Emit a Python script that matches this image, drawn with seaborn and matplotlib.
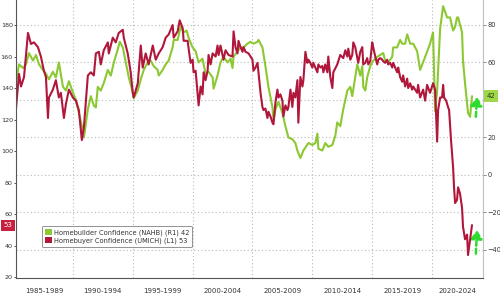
import matplotlib
matplotlib.use("Agg")
import matplotlib.pyplot as plt
import matplotlib.transforms as mtransforms
from matplotlib.patches import Patch
import seaborn as sns

# ---------------- data ----------------
red_years = [1985.25, 1985.5, 1985.67, 1985.92, 1986.25, 1986.5, 1986.75, 1987.08, 1987.33, 1987.58,
             1987.75, 1987.92, 1988.0, 1988.33, 1988.58, 1988.83, 1989.0, 1989.25, 1989.42, 1989.67,
             1990.0, 1990.25, 1990.5, 1990.75, 1990.92, 1991.25, 1991.5, 1991.75, 1991.92, 1992.17,
             1992.33, 1992.58, 1992.92, 1993.0, 1993.33, 1993.58, 1993.83, 1994.17, 1994.25, 1994.58,
             1994.83, 1995.0, 1995.08, 1995.42, 1995.67, 1995.83, 1996.08, 1996.33, 1996.67, 1996.92,
             1997.17, 1997.5, 1997.75, 1998.0, 1998.33, 1998.42, 1998.75, 1998.92, 1999.17, 1999.25,
             1999.58, 1999.67, 1999.83, 2000.0, 2000.08, 2000.25, 2000.42, 2000.5, 2000.67, 2000.83,
             2000.92, 2001.08, 2001.25, 2001.33, 2001.5, 2001.67, 2001.92, 2002.08, 2002.17, 2002.33,
             2002.58, 2002.75, 2003.0, 2003.33, 2003.42, 2003.58, 2003.75, 2003.83, 2004.0, 2004.17,
             2004.25, 2004.42, 2004.67, 2005.0, 2005.08, 2005.25, 2005.42, 2005.5, 2005.67, 2005.83,
             2005.92, 2006.08, 2006.25, 2006.33, 2006.5, 2006.67, 2006.75, 2006.92, 2007.08, 2007.17,
             2007.33, 2007.5, 2007.58, 2007.75, 2007.92, 2008.0, 2008.17, 2008.33, 2008.42, 2008.58,
             2008.75, 2008.83, 2009.0, 2009.17, 2009.25, 2009.42, 2009.58, 2009.67, 2009.83, 2010.0,
             2010.08, 2010.25, 2010.42, 2010.5, 2010.67, 2010.83, 2010.92, 2011.08, 2011.25, 2011.33,
             2011.5, 2011.67, 2011.75, 2012.08, 2012.33, 2012.58, 2012.75, 2012.92, 2013.0, 2013.17,
             2013.33, 2013.42, 2013.58, 2013.75, 2013.83, 2014.0, 2014.17, 2014.25, 2014.42, 2014.58,
             2014.67, 2014.83, 2015.0, 2015.08, 2015.25, 2015.42, 2015.5, 2015.67, 2015.83, 2015.92,
             2016.08, 2016.25, 2016.33, 2016.5, 2016.67, 2016.75, 2016.92, 2017.08, 2017.17, 2017.33,
             2017.5, 2017.58, 2017.75, 2017.92, 2018.0, 2018.17, 2018.33, 2018.42, 2018.75, 2018.83,
             2019.0, 2019.25, 2019.42, 2019.58, 2019.83, 2020.08, 2020.25, 2020.42, 2020.5, 2020.67,
             2020.83, 2020.92, 2021.0, 2021.17, 2021.33, 2021.42, 2021.58, 2021.75, 2021.83, 2021.92,
             2022.08, 2022.17, 2022.33, 2022.5, 2022.58, 2022.75, 2022.92, 2023.0, 2023.17, 2023.33]
red_values = [127, 149, 141, 147, 175, 168, 169, 166, 160, 151,
              147, 121, 134, 139, 145, 134, 137, 121, 130, 139,
              134, 132, 126, 107, 115, 148, 150, 148, 162, 163,
              155, 164, 169, 162, 172, 169, 175, 177, 172, 162,
              150, 137, 134, 143, 167, 153, 162, 155, 167, 158,
              162, 166, 172, 174, 180, 172, 176, 183, 178, 170,
              170, 165, 156, 158, 150, 151, 136, 129, 141, 136,
              150, 145, 151, 161, 155, 162, 160, 167, 161, 167,
              158, 164, 161, 160, 176, 166, 162, 170, 166, 163,
              166, 163, 162, 158, 151, 153, 156, 150, 137, 128,
              126, 127, 121, 125, 122, 118, 117, 131, 139, 134,
              136, 132, 122, 129, 126, 128, 139, 128, 137, 134,
              145, 118, 147, 141, 145, 163, 156, 158, 156, 153,
              156, 153, 150, 155, 153, 154, 150, 155, 150, 160,
              147, 140, 150, 155, 161, 159, 164, 160, 165, 158,
              161, 169, 166, 159, 156, 163, 166, 155, 156, 159,
              155, 157, 169, 166, 160, 155, 158, 159, 158, 157,
              156, 158, 155, 156, 153, 156, 153, 150, 153, 147,
              144, 148, 141, 146, 140, 143, 139, 141, 137, 142,
              134, 139, 132, 142, 137, 143, 139, 106, 126, 134,
              134, 142, 134, 132, 128, 126, 107, 90, 77, 67,
              69, 77, 73, 64, 52, 44, 47, 34, 44, 53]

green_years = [1985.25, 1985.5, 1985.83, 1986.08, 1986.33, 1986.67, 1986.92, 1987.17, 1987.5, 1987.75,
               1988.0, 1988.33, 1988.58, 1988.83, 1989.17, 1989.42, 1989.67, 1990.0, 1990.25, 1990.5,
               1990.83, 1990.92, 1991.25, 1991.5, 1991.75, 1991.92, 1992.08, 1992.33, 1992.58, 1992.92,
               1993.17, 1993.42, 1993.75, 1993.92, 1994.17, 1994.42, 1994.67, 1995.0, 1995.08, 1995.42,
               1995.67, 1995.92, 1996.25, 1996.5, 1996.75, 1997.08, 1997.17, 1997.5, 1997.75, 1998.0,
               1998.33, 1998.42, 1998.75, 1999.0, 1999.25, 1999.5, 1999.67, 2000.0, 2000.25, 2000.5,
               2000.83, 2000.92, 2001.08, 2001.33, 2001.67, 2001.75, 2002.08, 2002.33, 2002.58, 2002.92,
               2003.17, 2003.33, 2003.42, 2003.75, 2004.0, 2004.25, 2004.58, 2004.83, 2005.08, 2005.42,
               2005.5, 2005.83, 2006.08, 2006.33, 2006.67, 2006.75, 2006.92, 2007.17, 2007.5, 2007.75,
               2008.0, 2008.33, 2008.58, 2008.75, 2009.0, 2009.25, 2009.67, 2010.0, 2010.25, 2010.42,
               2010.5, 2010.83, 2011.08, 2011.33, 2011.67, 2011.92, 2012.08, 2012.33, 2012.58, 2012.92,
               2013.17, 2013.33, 2013.58, 2013.75, 2014.0, 2014.17, 2014.25, 2014.42, 2014.58, 2014.83,
               2015.08, 2015.42, 2015.67, 2015.92, 2016.08, 2016.33, 2016.67, 2016.75, 2017.08, 2017.33,
               2017.5, 2017.75, 2017.92, 2018.17, 2018.42, 2018.75, 2019.0, 2019.42, 2019.83, 2020.08,
               2020.25, 2020.42, 2020.67, 2020.92, 2021.25, 2021.5, 2021.75, 2021.92, 2022.08, 2022.17,
               2022.5, 2022.58, 2022.75, 2023.0, 2023.17, 2023.33]
green_values = [49, 59, 57, 59, 65, 61, 64, 59, 56, 54,
                51, 55, 52, 60, 47, 45, 50, 44, 40, 33,
                24, 20, 35, 42, 37, 36, 47, 45, 49, 56,
                53, 60, 67, 71, 68, 60, 52, 44, 41, 45,
                51, 56, 60, 61, 58, 56, 53, 56, 59, 61,
                68, 72, 72, 79, 76, 77, 73, 68, 66, 60,
                62, 59, 54, 55, 52, 46, 53, 60, 63, 60,
                62, 57, 63, 66, 68, 68, 70, 71, 70, 71,
                72, 68, 58, 47, 36, 29, 35, 39, 33, 26,
                20, 19, 17, 13, 9, 13, 17, 16, 17, 22,
                14, 13, 17, 15, 16, 21, 28, 26, 35, 45,
                47, 42, 52, 59, 53, 58, 47, 45, 52, 58,
                61, 63, 64, 65, 61, 60, 63, 68, 68, 72,
                70, 70, 75, 70, 70, 66, 56, 63, 70, 76,
                34, 45, 78, 90, 84, 84, 77, 79, 84, 84,
                76, 61, 49, 33, 31, 42]

period_labels = ["1985-1989", "1990-1994", "1995-1999", "2000-2004",
                 "2005-2009", "2010-2014", "2015-2019", "2020-2024"]
period_starts = [1985, 1990, 1995, 2000, 2005, 2010, 2015, 2020]
left_ticks = [20, 40, 60, 80, 100, 120, 140, 160, 180]
right_ticks = [-40, -20, 0, 20, 40, 60, 80]
green_name = "Homebuilder Confidence (NAHB) (R1)"
red_name = "Homebuyer Confidence (UMICH) (L1)"

# ---------------- style ----------------
sns.set_style("white")
plt.rcParams["font.family"] = ["DejaVu Sans"]

GREEN = "#8cc832"
RED = "#b0173a"
GRID = "#b8b8b8"
TXT = "#333333"

fig = plt.figure(figsize=(5.0, 2.98), dpi=100)
ax = fig.add_axes([0.032, 0.067, 0.934, 0.933])
ax2 = ax.twinx()

# green on right axis, red on left axis (drawn on top)
sns.lineplot(x=green_years, y=green_values, ax=ax2, color=GREEN, lw=1.5,
             estimator=None, sort=False)
sns.lineplot(x=red_years, y=red_values, ax=ax, color=RED, lw=1.5,
             estimator=None, sort=False)
ax.set_zorder(ax2.get_zorder() + 1)
ax.patch.set_visible(False)

x0, x1 = 1985.25, 2024.25
ax.set_xlim(x0, x1)
ax.set_ylim(19.4, 195.9)
ax2.set_ylim(-55.0, 93.3)

# grid from right axis (horizontal) and vertical separators
ax2.set_yticks(right_ticks)
for v in right_ticks:
    ax2.axhline(v, color=GRID, lw=0.8, ls=(0, (1, 2.2)), zorder=0)
for s in period_starts[1:]:
    ax2.axvline(s, color=GRID, lw=0.8, ls=(0, (1, 2.2)), zorder=0)

ax.set_yticks(left_ticks)
ax.set_xticks(period_starts[1:])
ax.set_xticks(list(range(1986, 2025)), minor=True)
ax.set_xticklabels([])
ax.tick_params(axis="x", which="major", length=14.5, width=0.7, color="#c8c8c8",
               direction="out")
ax.tick_params(axis="x", which="minor", length=2.5, width=0.6, color="#666666",
               direction="out")
ax.tick_params(axis="y", which="major", length=1.6, width=0.7, color="#555555",
               labelsize=4.6, labelcolor=TXT, pad=0.6)
ax2.tick_params(axis="y", which="major", length=2.0, width=0.7, color="#888888",
                labelsize=4.8, labelcolor=TXT, pad=1)
ax.set_xlabel("")
ax.set_ylabel("")
ax2.set_ylabel("")

for a in (ax, ax2):
    a.spines["top"].set_visible(False)
ax.spines["right"].set_visible(False)
ax2.spines["left"].set_visible(False)
ax2.spines["bottom"].set_visible(False)
ax.spines["left"].set_color("#555555")
ax.spines["left"].set_linewidth(0.8)
ax.spines["bottom"].set_color("#555555")
ax.spines["bottom"].set_linewidth(0.8)
ax2.spines["right"].set_color("#c0c0c0")
ax2.spines["right"].set_linewidth(0.8)

# period labels centred in each visible 5-year span
trans = mtransforms.blended_transform_factory(ax.transData, ax.transAxes)
for lab, s in zip(period_labels, period_starts):
    lo, hi = max(s, x0), min(s + 5, x1)
    ax.text((lo + hi) / 2, -0.047, lab, transform=trans, ha="center", va="center",
            fontsize=5, color=TXT)

# last-value boxes on the axes
ax.annotate(f"{red_values[-1]}", xy=(0, red_values[-1]),
            xycoords=("axes fraction", "data"), xytext=(-2.5, 0),
            textcoords="offset points", ha="right", va="center", fontsize=5.0,
            color="white", annotation_clip=False, zorder=10,
            bbox=dict(boxstyle="square,pad=0.35", fc="#c8203f", ec="none"))
ax2.annotate(f"{green_values[-1]}", xy=(1, green_values[-1]),
             xycoords=("axes fraction", "data"), xytext=(2.5, 0),
             textcoords="offset points", ha="left", va="center", fontsize=5.0,
             color="#2a4010", annotation_clip=False, zorder=10,
             bbox=dict(boxstyle="square,pad=0.4", fc="#9fd64a", ec="none"))

# green dashed up-arrows near the end of each series
arrow_kw = dict(arrowstyle="-|>,head_length=0.5,head_width=0.35", color="#2edc2e",
                lw=1.8, ls=(0, (2, 1.2)), shrinkA=0, shrinkB=0)
ax2.annotate("", xy=(2023.75, 41.5), xytext=(2023.65, 31.0), arrowprops=arrow_kw)
ax2.annotate("", xy=(2023.75, -29.5), xytext=(2023.65, -42.0), arrowprops=arrow_kw)

# legend
handles = [Patch(facecolor=GREEN, edgecolor="none"),
           Patch(facecolor=RED, edgecolor="none")]
labels = [f"{green_name} {green_values[-1]}", f"{red_name} {red_values[-1]}"]
leg = ax.legend(handles, labels, loc="lower left", bbox_to_anchor=(0.056, 0.112),
                fontsize=4.8, frameon=True, handlelength=1.0, handleheight=0.9,
                handletextpad=0.3, borderpad=0.45, labelspacing=0.25,
                borderaxespad=0, fancybox=True)
leg.get_frame().set_edgecolor("#777777")
leg.get_frame().set_linewidth(0.7)
for t in leg.get_texts():
    t.set_color(TXT)

fig.savefig("out.png", dpi=100)
